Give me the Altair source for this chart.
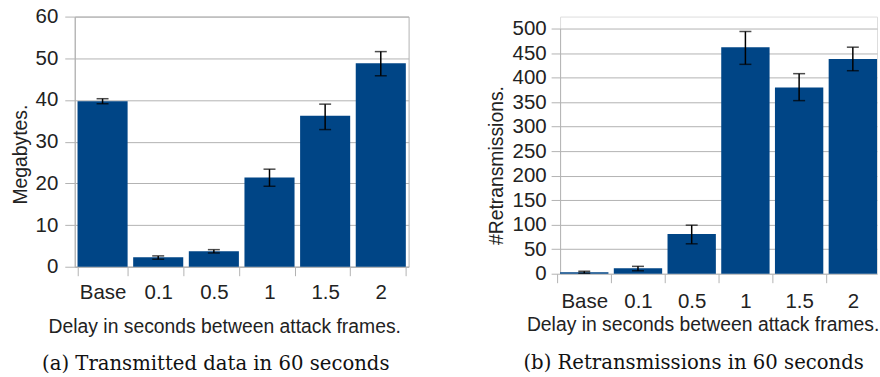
import altair as alt
import pandas as pd

categories = ["Base", "0.1", "0.5", "1", "1.5", "2"]

megabytes = [39.7, 2.3, 3.7, 21.4, 36.2, 48.8]
megabytes_lo = [39.1, 1.8, 3.3, 19.3, 32.9, 45.8]
megabytes_hi = [40.3, 2.6, 4.1, 23.4, 39.0, 51.6]

retrans = [3, 11, 81, 462, 380, 438]
retrans_lo = [1, 6, 61, 427, 353, 414]
retrans_hi = [5, 15, 99, 494, 408, 462]

left_ticks = [0, 10, 20, 30, 40, 50, 60]
right_ticks = [0, 50, 100, 150, 200, 250, 300, 350, 400, 450, 500]

BAR = "#004586"
GRID = "#b3b3b3"
TXT = "#222222"
FONT = "Liberation Sans"

df1 = pd.DataFrame({"cat": categories, "v": megabytes, "lo": megabytes_lo, "hi": megabytes_hi})
df2 = pd.DataFrame({"cat": categories, "v": retrans, "lo": retrans_lo, "hi": retrans_hi})


def panel(df, xscale, yscale, yvals, ytitle, ytx, yty, lpad_y, tick_y, lpad_x, xtx, xty,
          caption, cdx, coff, w, h, xtick_opts):
    xaxis = alt.Axis(title="Delay in seconds between attack frames.", labelAngle=0,
                     tickSize=9, tickColor=GRID, domainColor=GRID,
                     labelFont=FONT, labelFontSize=20.5, labelColor=TXT,
                     labelBaseline="middle", labelPadding=lpad_x,
                     titleFont=FONT, titleFontSize=19.4, titleFontWeight="normal",
                     titleColor=TXT, titleX=xtx, titleY=xty, titleBaseline="middle",
                     titleAlign="center", **xtick_opts)
    yaxis = alt.Axis(title=ytitle, values=yvals, grid=True, gridColor=GRID, gridWidth=1,
                     tickSize=tick_y, tickColor=GRID, domainColor=GRID,
                     labelFont=FONT, labelFontSize=20.5, labelColor=TXT,
                     labelPadding=lpad_y, labelOverlap=False,
                     titleFont=FONT, titleFontSize=19.4, titleFontWeight="normal",
                     titleColor=TXT, titleX=ytx, titleY=yty, titleAngle=270,
                     titleBaseline="middle", titleAlign="center")
    xs = alt.X("cat:N", sort=categories, scale=xscale, axis=xaxis)
    bars = alt.Chart(df).mark_bar(color=BAR).encode(
        x=xs, y=alt.Y("v:Q", scale=yscale, axis=yaxis))
    rule = alt.Chart(df).mark_rule(color="black", strokeWidth=1.5).encode(
        x=xs, y=alt.Y("lo:Q", scale=yscale, axis=yaxis), y2="hi:Q")
    tlo = alt.Chart(df).mark_tick(color="black", size=12, thickness=1.5).encode(
        x=xs, y=alt.Y("lo:Q", scale=yscale, axis=yaxis))
    thi = alt.Chart(df).mark_tick(color="black", size=12, thickness=1.5).encode(
        x=xs, y=alt.Y("hi:Q", scale=yscale, axis=yaxis))
    return alt.layer(bars, rule, tlo, thi).properties(
        width=w, height=h,
        title=alt.TitleParams(text=caption, orient="bottom", font="DejaVu Serif", fontSize=19.7,
                              fontWeight="normal", color="#111111", anchor="middle",
                              frame="group", dx=cdx, offset=coff))


left = panel(df1,
             alt.Scale(paddingInner=0.1, paddingOuter=0.05),
             alt.Scale(domain=[0, 60], nice=False),
             left_ticks, "Megabytes.", -54, 138, 7, 10, 17, 150, 60,
             "(a) Transmitted data in 60 seconds", -26, 18.5, 335, 251,
             {"tickBand": "extent"}
             ).properties(view=alt.ViewBackground(stroke=GRID, strokeWidth=1))

right = panel(df2,
              alt.Scale(paddingInner=0.1, paddingOuter=0),
              alt.Scale(domain=[0, 500], nice=False, range=[258, 12]),
              right_ticks, "#Retransmissions.", -64, 149, 5, 9, 19, 143, 51,
              "(b) Retransmissions in 60 seconds", -25, 19.5, 318, 258,
              {"tickOffset": -26.95, "labelOffset": 26.95, "domain": False}
              )

chart = alt.hconcat(left, right, spacing=152, bounds="flush").properties(
    padding={"left": 10, "top": 5, "right": 0, "bottom": 0}
).configure_view(stroke="transparent").configure(background="white")

chart.save("out.html", embed_options={"renderer": "svg", "actions": False})
